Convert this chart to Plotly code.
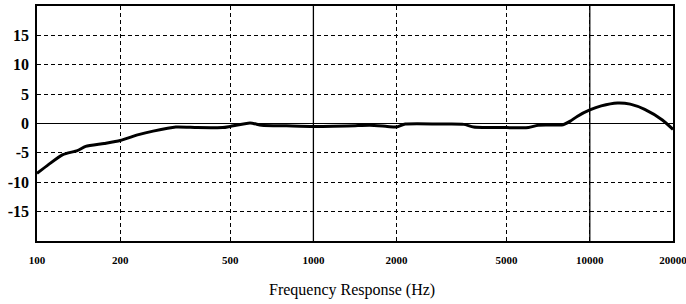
import plotly.graph_objects as go

# Frequency response (Hz, dB)
freq_hz = [100, 110, 124, 140, 150, 175, 200, 233, 263, 318, 380, 470, 500,
           590, 650, 800, 1000, 1450, 1600, 1850, 2000, 2150, 3000, 3500,
           3800, 5000, 6000, 6500, 8000, 8500, 9000, 10000, 11000, 12600,
           14000, 15800, 18300, 20000]
response_db = [-8.5, -7.0, -5.3, -4.6, -3.9, -3.4, -2.9, -1.9, -1.3, -0.6, -0.7,
               -0.7, -0.5, 0.1, -0.3, -0.4, -0.5, -0.35, -0.3, -0.5, -0.6, -0.1,
               -0.1, -0.15, -0.6, -0.7, -0.7, -0.3, -0.2, 0.4, 1.2, 2.3, 3.0,
               3.5, 3.3, 2.4, 0.6, -1.0]

x_tick_vals = [100, 200, 500, 1000, 2000, 5000, 10000, 20000]
x_tick_text = ["100", "200", "500", "1000", "2000", "5000", "10000", "20000"]
y_tick_vals = [-15, -10, -5, 0, 5, 10, 15]
y_tick_text = ["-15", "-10", "-5", "0", "5", "10", "15"]
solid_x_lines = [1000, 10000]
x_title = "Frequency Response (Hz)"

SERIF = "Liberation Serif, Times New Roman, Times, DejaVu Serif, serif"

fig = go.Figure()
fig.add_trace(go.Scatter(
    x=freq_hz, y=response_db, mode="lines",
    line=dict(color="black", width=3, shape="spline", smoothing=0.6),
    showlegend=False, hoverinfo="skip"))

for xv in solid_x_lines:
    fig.add_vline(x=xv, line=dict(color="black", width=1.3))

fig.update_layout(
    width=686, height=304,
    margin=dict(l=37, r=13, t=6, b=63),
    paper_bgcolor="white", plot_bgcolor="white",
    showlegend=False,
    font=dict(family=SERIF, color="black"),
)
fig.update_xaxes(
    type="log", range=[2, 4.30103], automargin=False,
    tickmode="array", tickvals=x_tick_vals, ticktext=x_tick_text,
    tickfont=dict(family=SERIF, size=11, weight="bold"),
    ticks="", ticklabelstandoff=8, ticklabeloverflow="allow",
    showgrid=True, gridcolor="black", gridwidth=1, griddash="4px,3px",
    showline=True, linecolor="black", linewidth=1.5, mirror=True,
    zeroline=False,
)
fig.update_yaxes(
    range=[-20, 20], automargin=False,
    tickmode="array", tickvals=y_tick_vals, ticktext=y_tick_text,
    tickfont=dict(family=SERIF, size=16, weight="bold"),
    ticks="", ticklabelstandoff=3,
    showgrid=True, gridcolor="black", gridwidth=1, griddash="4px,3px",
    zeroline=True, zerolinecolor="black", zerolinewidth=1,
    showline=True, linecolor="black", linewidth=1.5, mirror=True,
)
fig.add_annotation(
    text=x_title, xref="paper", yref="paper", x=0.495, y=-0.2085,
    xanchor="center", yanchor="middle", showarrow=False,
    font=dict(family=SERIF, size=16, color="black"),
)

fig.write_html("out.html", config={"displayModeBar": False},
               post_script="document.body.style.margin='0';")
